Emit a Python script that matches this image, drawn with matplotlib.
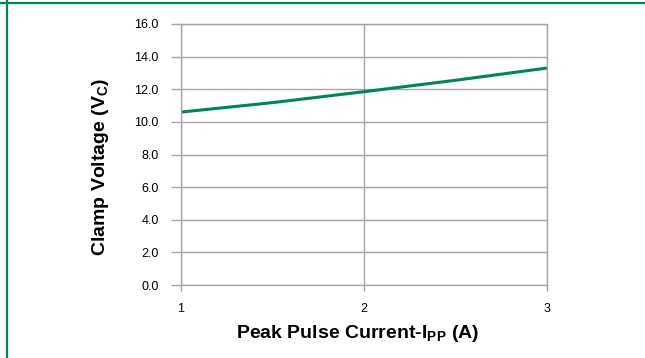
import numpy as np
import matplotlib
matplotlib.use("Agg")
import matplotlib.pyplot as plt
from matplotlib.lines import Line2D

# data
current_a = [1.0, 1.5, 2.0, 2.5, 3.0]
clamp_v = [10.6, 11.18, 11.85, 12.55, 13.3]
x_ticks = [1, 2, 3]
y_ticks = [0, 2, 4, 6, 8, 10, 12, 14, 16]

green = "#00845a"
grid_gray = "#a6a6a6"

plt.rcParams["font.family"] = ["Liberation Sans", "DejaVu Sans"]
plt.rcParams["mathtext.fontset"] = "custom"
plt.rcParams["mathtext.rm"] = "Liberation Sans:bold"
plt.rcParams["mathtext.default"] = "rm"

fig = plt.figure(figsize=(6.45, 3.58), dpi=100)
ax = fig.add_axes([181 / 645, 1 - 285 / 358, (547 - 181) / 645, (285 - 24) / 358])

ax.plot(current_a, clamp_v, color=green, lw=2.2, solid_capstyle="butt")

ax.set_xlim(1, 3)
ax.set_ylim(0, 16)
ax.set_xticks(x_ticks)
ax.set_yticks(y_ticks)
ax.set_yticklabels([f"{v:.1f}" for v in y_ticks])
ax.grid(True, color=grid_gray, lw=1.0)
ax.set_axisbelow(True)
for s in ax.spines.values():
    s.set_color(grid_gray)
    s.set_linewidth(1.0)

ax.tick_params(axis="y", length=7, width=1, color=grid_gray, pad=9, labelsize=9)
ax.tick_params(axis="x", length=4, width=1, color=grid_gray, pad=9, labelsize=9)

ax.set_xlabel(r"Peak Pulse Current-I$_{PP}$ (A)", fontsize=14, fontweight="bold")
ax.set_ylabel(r"Clamp Voltage (V$_{C}$)", fontsize=14, fontweight="bold")
ax.xaxis.label.set_va("center")
ax.yaxis.label.set_va("center")
ax.xaxis.set_label_coords(0.482, -0.184)
ax.yaxis.set_label_coords(-0.219, 0.452)

# green frame on top and left edges
fig.add_artist(Line2D([0, 1], [1 - 2.5 / 358] * 2, color=green, lw=1.6, transform=fig.transFigure))
fig.add_artist(Line2D([6.5 / 645] * 2, [0, 1], color=green, lw=1.6, transform=fig.transFigure))

fig.savefig("out.png", dpi=100)
plt.close(fig)
